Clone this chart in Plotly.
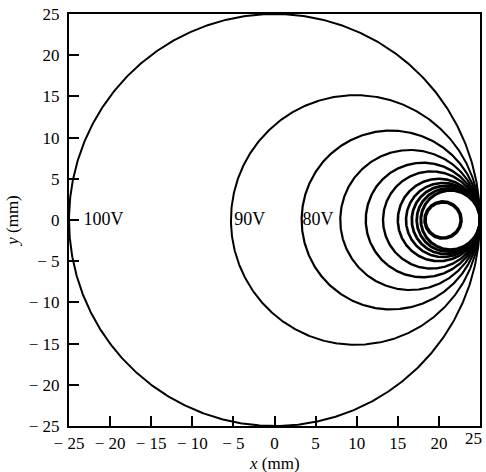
import numpy as np
import plotly.graph_objects as go

# Equipotential circles: left and right x-intercepts (mm)
left_edges = [-25.0, -5.3, 3.3, 8.0, 11.1, 13.2, 15.0, 16.0, 16.7, 17.3, 17.8, 18.3]
right_edges = [25.0, 25.0, 25.0, 25.0, 25.0, 25.0, 25.0, 25.0, 25.0, 25.0, 25.0, 22.7]
line_widths = [2.0, 2.0, 2.2, 2.2, 2.4, 2.4, 2.6, 2.6, 2.8, 2.8, 3.0, 3.6]

label_text = ["100V", "90V", "80V"]
label_x = [-20.8, -3.0, 5.3]
label_y = [0, 0, 0]

tick_vals = [-25, -20, -15, -10, -5, 0, 5, 10, 15, 20, 25]
tick_text = ["− 25", "− 20", "− 15", "− 10", "− 5", "0", "5", "10", "15", "20", "25"]

font_family = "Liberation Serif, Times New Roman, serif"
tick_font = dict(family=font_family, size=17, color="black")
title_font = dict(family=font_family, size=17, color="black")

fig = go.Figure()
t = np.linspace(0, 2 * np.pi, 721)
for a, b, w in zip(left_edges, right_edges, line_widths):
    c = (a + b) / 2
    r = (b - a) / 2
    fig.add_trace(go.Scatter(x=c + r * np.cos(t), y=r * np.sin(t), mode="lines",
                             line=dict(color="black", width=w), showlegend=False,
                             hoverinfo="skip"))

fig.add_trace(go.Scatter(x=label_x, y=label_y, mode="text", text=label_text,
                         textfont=dict(family=font_family, size=18, color="black"),
                         showlegend=False, hoverinfo="skip"))

axis_common = dict(
    ticks="inside", ticklen=10, tickwidth=2,
    tickcolor="black", showline=True, linecolor="black", linewidth=2.2, mirror=True,
    showgrid=False, zeroline=False, ticklabeloverflow="allow", automargin=False,
    tickfont=tick_font,
)

# last x tick label drawn as an annotation aligned to the right edge so it is not cut
x_tick_text = tick_text[:-1] + [""]

fig.update_layout(
    width=486, height=472, autosize=False,
    margin=dict(l=69, r=6, t=14, b=46),
    plot_bgcolor="white", paper_bgcolor="white",
    xaxis=dict(range=[-25, 25], tickvals=tick_vals, ticktext=x_tick_text, **axis_common),
    yaxis=dict(range=[-25, 25], tickvals=tick_vals, ticktext=tick_text,
               title=dict(text="<i>y</i> (mm)", standoff=6, font=title_font), **axis_common),
)
fig.add_annotation(text=tick_text[-1], x=tick_vals[-1], xref="x", y=0, yref="paper",
                   xanchor="right", yanchor="top", xshift=4, yshift=-1, showarrow=False,
                   font=tick_font)
fig.add_annotation(text="<i>x</i> (mm)", x=0.5, xref="paper", y=0, yref="paper",
                   xanchor="center", yanchor="top", yshift=-26, showarrow=False,
                   font=title_font)
fig.update_xaxes(ticklabelstandoff=0)
fig.update_yaxes(ticklabelstandoff=4)

fig.write_html("out.html")
